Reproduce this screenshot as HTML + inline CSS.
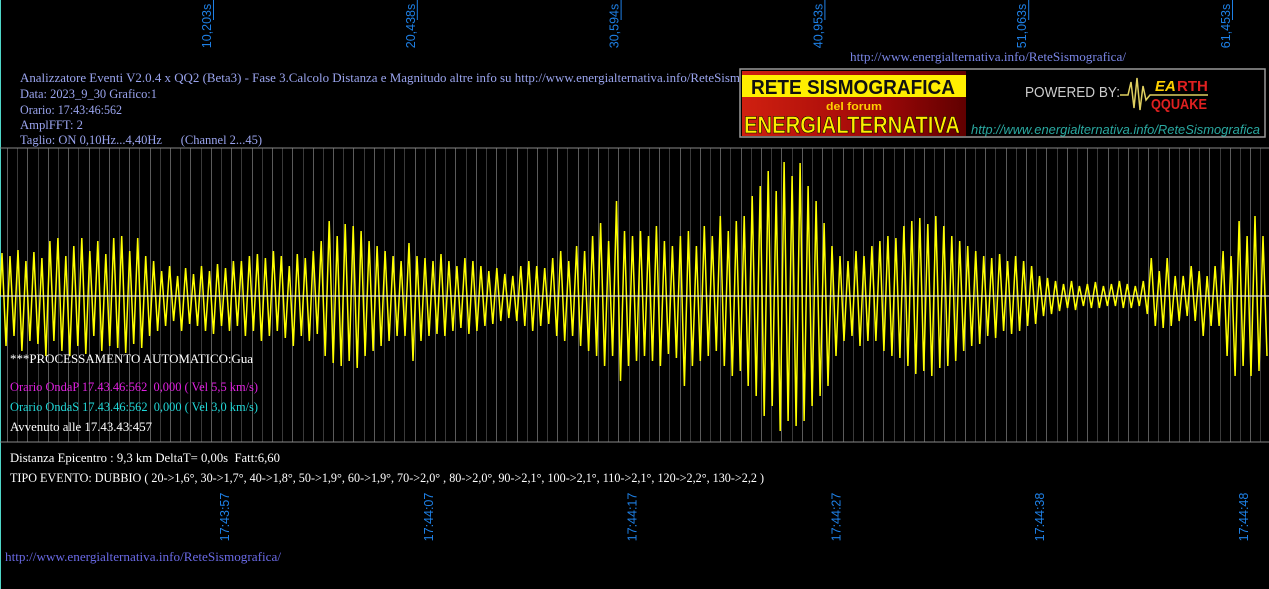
<!DOCTYPE html>
<html><head><meta charset="utf-8">
<style>
html,body{margin:0;padding:0;background:#000;width:1269px;height:589px;overflow:hidden}
svg{display:block}
.ser{font-family:"Liberation Serif",serif;font-size:12.5px}
.san{font-family:"Liberation Sans",sans-serif}
</style></head>
<body>
<svg id="chart" width="1269" height="589" viewBox="0 0 1269 589">
  <rect x="0" y="0" width="1269" height="589" fill="#000"/>
  <line x1="0.5" y1="0" x2="0.5" y2="589" stroke="#4fd6c8" stroke-width="1"/>
  <g id="grid"></g>
  <line x1="0" y1="148" x2="1269" y2="148" stroke="#888"/>
  <line x1="0" y1="442" x2="1269" y2="442" stroke="#888"/>
  <g id="topTicks"></g>
  <g id="bottomTicks"></g>
  <path id="trace" fill="none" stroke="#ffff00" stroke-width="1.5"/>
  <line x1="0" y1="296" x2="1269" y2="296" stroke="#ddd" stroke-width="1.2"/>

  <text x="850" y="61" class="ser" fill="#7a86e6" textLength="276" lengthAdjust="spacingAndGlyphs">http://www.energialternativa.info/ReteSismografica/</text>
  <g class="ser" fill="#9aa4ee">
    <text x="20" y="82" textLength="720" lengthAdjust="spacingAndGlyphs">Analizzatore Eventi V2.0.4 x QQ2 (Beta3) - Fase 3.Calcolo Distanza e Magnitudo altre info su http://www.energialternativa.info/ReteSism</text>
    <text x="20" y="98" textLength="137" lengthAdjust="spacingAndGlyphs">Data: 2023_9_30 Grafico:1</text>
    <text x="20" y="114" textLength="102" lengthAdjust="spacingAndGlyphs">Orario: 17:43:46:562</text>
    <text x="20" y="129" textLength="63" lengthAdjust="spacingAndGlyphs">AmplFFT: 2</text>
    <text x="20" y="144" textLength="242" lengthAdjust="spacingAndGlyphs">Taglio: ON 0,10Hz...4,40Hz &#160;&#160;&#160;&#160;&#160;(Channel 2...45)</text>
  </g>

  <g>
    <defs>
      <linearGradient id="rg" x1="0" y1="0" x2="1" y2="0">
        <stop offset="0" stop-color="#d02010"/><stop offset="0.6" stop-color="#a00808"/><stop offset="1" stop-color="#600000"/>
      </linearGradient>
    </defs>
    <rect x="740" y="69" width="525" height="68" fill="#000" stroke="#999" stroke-width="1.5"/>
    <rect x="742" y="71" width="224" height="65" fill="url(#rg)"/>
    <rect x="742" y="75" width="224" height="22" fill="#ffee00"/>
    <text x="751" y="94" class="san" font-size="20" font-weight="bold" fill="#111" textLength="204" lengthAdjust="spacingAndGlyphs">RETE SISMOGRAFICA</text>
    <text x="826" y="110" class="san" font-size="11" font-weight="bold" fill="#ffd000" textLength="56" lengthAdjust="spacingAndGlyphs">del forum</text>
    <text x="744" y="133" class="san" font-size="24" font-weight="bold" fill="#ffee00" stroke="#000" stroke-width="0.6" textLength="216" lengthAdjust="spacingAndGlyphs">ENERGIALTERNATIVA</text>
    <text x="1025" y="97" class="san" font-size="15" fill="#ccc" textLength="95" lengthAdjust="spacingAndGlyphs">POWERED BY:</text>
    <path d="M1120,95 L1128,95 L1131,82 L1134,108 L1137,78 L1140,110 L1143,86 L1146,100 L1150,95 L1208,95" stroke="#e0d060" fill="none" stroke-width="1.5"/>
    <text x="1155" y="91" class="san" font-size="15" font-weight="bold" font-style="italic" fill="#ffd000">EA</text>
    <text x="1177" y="91" class="san" font-size="15" font-weight="bold" fill="#e02020">RTH</text>
    <text x="1151" y="109" class="san" font-size="15" font-weight="bold" fill="#e02020" textLength="56" lengthAdjust="spacingAndGlyphs">QQUAKE</text>
    <text x="971" y="134" class="san" font-size="12.5" font-style="italic" fill="#2aa8a0" textLength="289" lengthAdjust="spacingAndGlyphs">http://www.energialternativa.info/ReteSismografica</text>
  </g>

  <text x="10" y="363" class="ser" fill="#fff" textLength="243" lengthAdjust="spacingAndGlyphs">***PROCESSAMENTO AUTOMATICO:Gua</text>
  <text x="10" y="391" class="ser" fill="#e020e0" textLength="248" lengthAdjust="spacingAndGlyphs">Orario OndaP 17.43.46:562 &#160;0,000 ( Vel 5,5 km/s)</text>
  <text x="10" y="411" class="ser" fill="#20d8d8" textLength="248" lengthAdjust="spacingAndGlyphs">Orario OndaS 17.43.46:562 &#160;0,000 ( Vel 3,0 km/s)</text>
  <text x="10" y="431" class="ser" fill="#fff" textLength="142" lengthAdjust="spacingAndGlyphs">Avvenuto alle 17.43.43:457</text>
  <text x="10" y="462" class="ser" fill="#fff" textLength="270" lengthAdjust="spacingAndGlyphs">Distanza Epicentro : 9,3 km DeltaT= 0,00s &#160;Fatt:6,60</text>
  <text x="10" y="482" class="ser" fill="#fff" textLength="754" lengthAdjust="spacingAndGlyphs">TIPO EVENTO: DUBBIO ( 20-&gt;1,6°, 30-&gt;1,7°, 40-&gt;1,8°, 50-&gt;1,9°, 60-&gt;1,9°, 70-&gt;2,0° , 80-&gt;2,0°, 90-&gt;2,1°, 100-&gt;2,1°, 110-&gt;2,1°, 120-&gt;2,2°, 130-&gt;2,2 )</text>
  <text x="5" y="561" class="ser" fill="#6a6ae6" textLength="276" lengthAdjust="spacingAndGlyphs">http://www.energialternativa.info/ReteSismografica/</text>
</svg>
<script>
const topLabels = ["10,203s","20,438s","30,594s","40,953s","51,063s","61,453s"];
const bottomLabels = ["17:43:57","17:44:07","17:44:17","17:44:27","17:44:38","17:44:48"];
const peaksUp = [43,40,46,35,44, 38,55,58,40,50,58,45,55,42,58, 60,45,58,40,35,
 25,30,20,28,22,30,25,32,28,35, 35,40,42,38,45,40,30,42,38,45, 55,75,60,72,70,65,55,50,45,40,
 35,53,40,38,35,42,35,30,38,35, 30,25,28,22,20,30,35,30,28,38, 45,35,50,45,60,73,55,95,65,60,
 65,60,70,55,50,60,65,50,70,60, 80,65,75,80,100,110,125,105,134,120, 133,110,95,73,50,40,35,45,40,50,
 55,60,58,70,75,78,72,80,70,60, 55,50,45,40,38,42,35,40,35,30, 20,18,15,12,15,10,12,14,10,12,
 15,12,10,15,38,25,38,20,20,30, 25,20,30,45,40,75,60,80,60];
const peaksDown = [50,40,55,45,48, 60,45,55,60,50,58,40,55,50,52, 57,48,52,40,35,
 30,25,35,28,30,35,38,30,35,30, 40,35,45,40,35,42,50,40,45,38, 60,67,70,65,72,60,55,50,45,40,
 40,65,45,40,38,40,35,32,38,35, 30,28,25,22,25,30,35,30,28,40, 45,40,50,55,60,70,60,85,70,65,
 60,65,70,58,62,90,70,65,60,55, 70,80,75,90,100,120,110,135,125,130, 125,110,100,90,60,45,40,50,45,45,
 55,60,62,70,78,75,80,72,70,65, 55,50,48,40,42,35,38,35,30,28, 20,18,15,12,14,10,12,12,10,10,
 12,12,10,18,30,32,30,25,20,25, 40,30,30,60,80,70,80,75,60];

const NS='http://www.w3.org/2000/svg';
const W=1269, zeroY=296;
const tickSpacing = 203.8;
const xTop = i => 207 + i*tickSpacing;
const xBottom = i => 225 + i*tickSpacing;
const cycW = W/peaksUp.length;
const xCycle = i => i*cycW;
const yAmp = v => zeroY - v;

const grid=document.getElementById('grid');
for(let i=0;i<140;i++){
  const x=Math.round(7 + i*tickSpacing/20)+0.5;
  if(x>W) break;
  const l=document.createElementNS(NS,'line');
  l.setAttribute('x1',x);l.setAttribute('x2',x);l.setAttribute('y1',148);l.setAttribute('y2',442);
  l.setAttribute('stroke', i%2? '#3a3a3a':'#5a5a5a');
  
  
  grid.appendChild(l);
}

const tt=document.getElementById('topTicks');
topLabels.forEach((lab,i)=>{
  const x=xTop(i);
  const t=document.createElementNS(NS,'text');
  t.setAttribute('transform',`translate(${x+4},26) rotate(-90)`);
  t.setAttribute('text-anchor','middle');
  t.setAttribute('class','san');t.setAttribute('font-size','12.5');t.setAttribute('fill','#1e80e6');
  t.textContent=lab;
  
  
  tt.appendChild(t);
  const l=document.createElementNS(NS,'line');
  l.setAttribute('x1',x+6.5);l.setAttribute('x2',x+6.5);l.setAttribute('y1',0);l.setAttribute('y2',20);
  l.setAttribute('stroke','#1e80e6');
  
  
  tt.appendChild(l);
});
const bt=document.getElementById('bottomTicks');
bottomLabels.forEach((lab,i)=>{
  const x=xBottom(i);
  const t=document.createElementNS(NS,'text');
  t.setAttribute('transform',`translate(${x+4},517) rotate(-90)`);
  t.setAttribute('text-anchor','middle');
  t.setAttribute('class','san');t.setAttribute('font-size','12.5');t.setAttribute('fill','#1e80e6');
  t.textContent=lab;
  
  
  bt.appendChild(t);
});

let d='M0,'+zeroY;
peaksUp.forEach((u,i)=>{
  const x0=xCycle(i);
  d+=` L${(x0+cycW*0.25).toFixed(1)},${yAmp(u)} L${(x0+cycW*0.75).toFixed(1)},${yAmp(-peaksDown[i])}`;
});
document.getElementById('trace').setAttribute('d',d);
</script>
</body></html>
